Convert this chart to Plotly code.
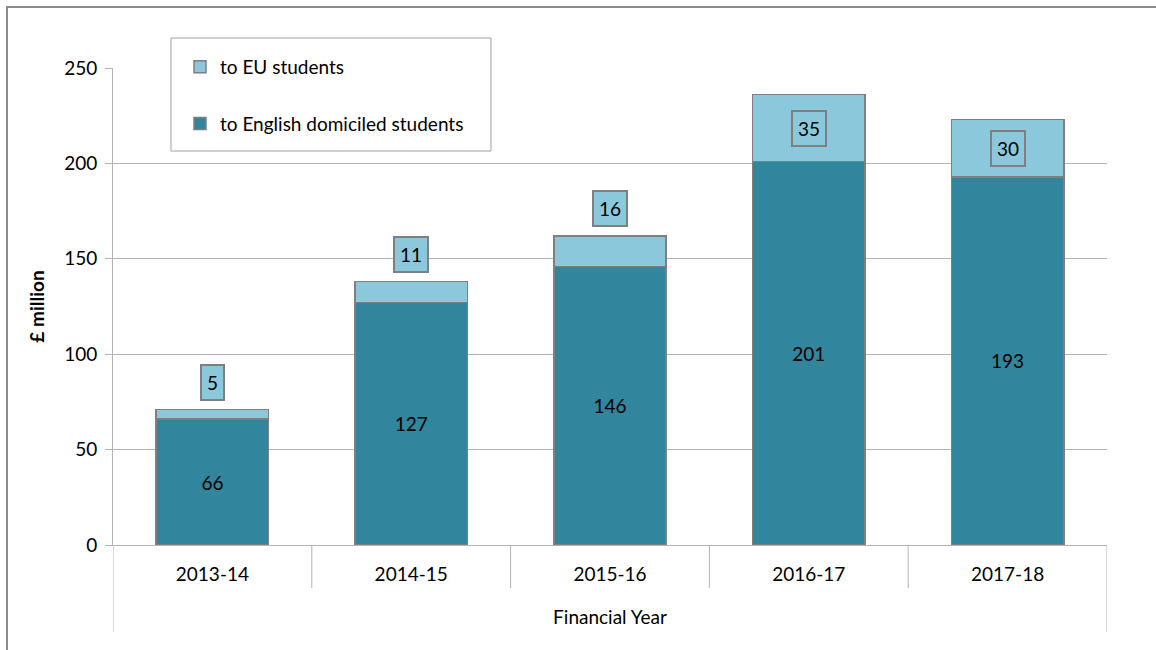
import plotly.graph_objects as go

# Financial years and funding (£ million)
years = ["2013-14", "2014-15", "2015-16", "2016-17", "2017-18"]
english = [66, 127, 146, 201, 193]
eu = [5, 11, 16, 35, 30]
y_ticks = [0, 50, 100, 150, 200, 250]

DARK = "#31859C"
LIGHT = "#8CC8DB"
EDGE = "#7F7F7F"
GRID = "#B3B3B3"
FONT = "Lato, 'Open Sans', sans-serif"
FS = 19

# plot-area geometry in pixels, used to place paper-referenced decoration
W, H = 1156, 650
ML, MR, MT, MB = 113, 49, 68, 105
PW, PH = W - ML - MR, H - MT - MB


def px_x(px):
    return (px - ML) / PW


def px_y(py):
    return (H - MB - py) / PH


fig = go.Figure()
fig.add_trace(go.Bar(
    x=years, y=english, name="to English domiciled students",
    marker=dict(color=DARK, line=dict(color=EDGE, width=1.5)),
    text=[str(v) for v in english], textposition="inside",
    insidetextanchor="middle", textangle=0,
    textfont=dict(family=FONT, size=FS, color="#000000"),
    legendgroup="eng", legendrank=2, hoverinfo="skip",
))
fig.add_trace(go.Bar(
    x=years, y=eu, name="to EU students",
    marker=dict(color=LIGHT, line=dict(color=EDGE, width=1.5)),
    legendgroup="eu", legendrank=1, hoverinfo="skip",
))

# boxed labels for the EU segment: inside when it fits, otherwise above the bar
annotations = []
for yr, e, u in zip(years, english, eu):
    inside = u >= 25
    annotations.append(dict(
        x=yr, y=e + u / 2 if inside else e + u,
        xref="x", yref="y", text=str(u), showarrow=False,
        yanchor="middle" if inside else "bottom",
        yshift=0 if inside else 9,
        font=dict(family=FONT, size=FS, color="#000000"),
        bgcolor=LIGHT, bordercolor=EDGE, borderwidth=2, borderpad=5,
    ))

shapes = []
# outer chart frame
shapes.append(dict(type="rect", xref="paper", yref="paper",
                   x0=px_x(7), x1=px_x(1175), y0=px_y(680), y1=px_y(7),
                   line=dict(color="#8C8C8C", width=2), fillcolor="rgba(0,0,0,0)",
                   layer="above"))
# legend frame
shapes.append(dict(type="rect", xref="paper", yref="paper",
                   x0=px_x(171), x1=px_x(491), y0=px_y(151), y1=px_y(38),
                   line=dict(color="#A0A0A0", width=1), fillcolor="#FFFFFF",
                   layer="above"))
# category boundaries below the axis; outer ones span the axis-title level too
n = len(years)
for i in range(n + 1):
    outer = i in (0, n)
    shapes.append(dict(type="line", xref="x", yref="paper",
                       x0=i - 0.5, x1=i - 0.5, y0=0,
                       y1=-(87 if outer else 43) / PH,
                       line=dict(color=GRID, width=1)))

fig.update_layout(
    width=W, height=H,
    margin=dict(l=ML, r=MR, t=MT, b=MB),
    barmode="stack", bargap=0.435,
    plot_bgcolor="#FFFFFF", paper_bgcolor="#FFFFFF",
    font=dict(family=FONT, size=FS, color="#000000"),
    showlegend=True,
    legend=dict(
        x=px_x(180), y=px_y(48), xanchor="left", yanchor="top",
        traceorder="grouped", tracegroupgap=29,
        bgcolor="rgba(0,0,0,0)", borderwidth=0,
        font=dict(family=FONT, size=FS, color="#000000"),
    ),
    annotations=annotations,
    shapes=shapes,
    xaxis=dict(
        type="category", range=[-0.5, n - 0.5],
        showgrid=False, showline=True, linecolor=GRID, linewidth=1,
        ticks="", ticklabelstandoff=12,
        tickfont=dict(family=FONT, size=FS),
        title=dict(text="Financial Year", standoff=26,
                   font=dict(family=FONT, size=FS)),
    ),
    yaxis=dict(
        range=[0, 250], tickvals=y_ticks,
        showgrid=True, gridcolor=GRID, gridwidth=1,
        showline=True, linecolor=GRID, linewidth=1,
        ticks="outside", ticklen=7, tickcolor=GRID,
        ticklabelstandoff=4, zeroline=False,
        tickfont=dict(family=FONT, size=FS),
        title=dict(text="<b>£ million</b>", standoff=14,
                   font=dict(family=FONT, size=FS)),
    ),
)

fig.write_html("out.html")
